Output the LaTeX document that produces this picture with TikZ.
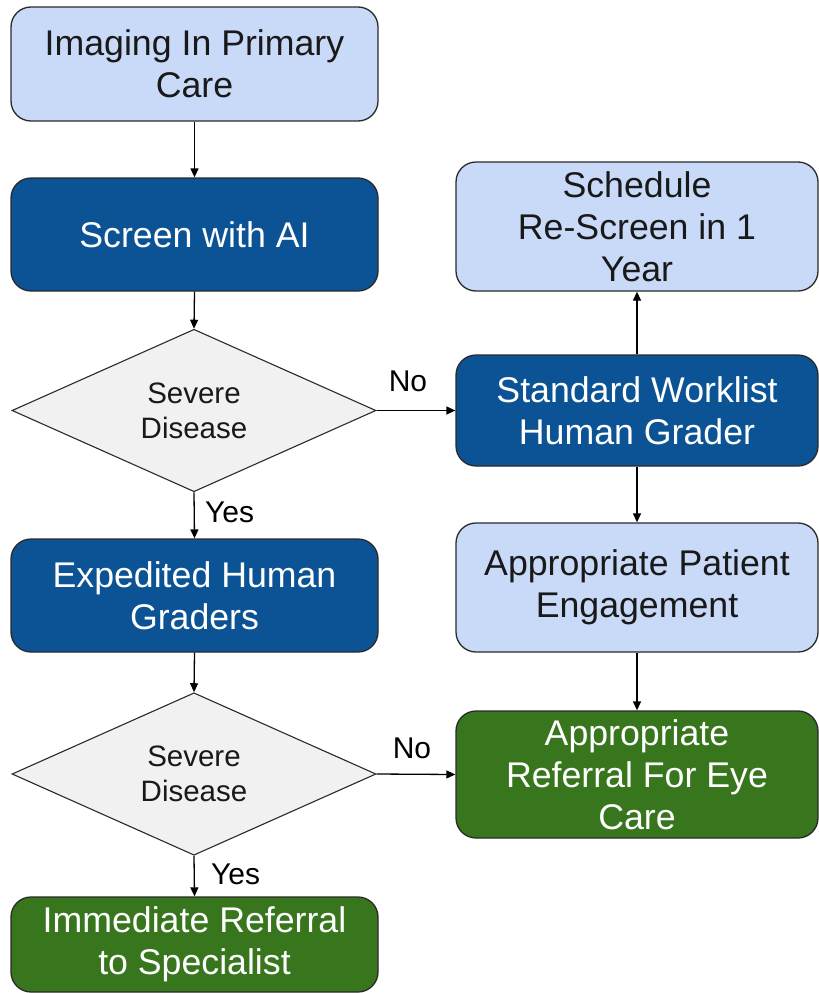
\documentclass[tikz,border=0pt]{standalone}
\usepackage{fontspec}
\setmainfont{Liberation Sans}
\usetikzlibrary{shapes.geometric,arrows.meta}
\definecolor{lightblue}{HTML}{C9DAF8}
\definecolor{darkblue}{HTML}{0B5394}
\definecolor{darkgreen}{HTML}{38761D}
\definecolor{lightgray}{HTML}{F1F1F1}
\definecolor{edgegray}{HTML}{2A2A2A}
\begin{document}
\begin{tikzpicture}[x=1pt,y=-1pt,
  box/.style={draw=edgegray, line width=1.3pt, rounded corners=20pt, align=center,
    inner sep=0pt, font=\fontsize{35.7}{42}\selectfont},
  lbox/.style={box, fill=lightblue, text=black!90},
  dbox/.style={box, fill=darkblue, text=white},
  gbox/.style={box, fill=darkgreen, text=white},
  dec/.style={diamond, draw=edgegray, line width=1.1pt, fill=lightgray, inner sep=0pt,
    align=center, font=\fontsize{29.5}{35}\selectfont, text=black!90},
  lbl/.style={font=\fontsize{30}{34}\selectfont, text=black, inner sep=2pt},
  arr/.style={-{Triangle[width=8pt,length=9pt]}, line width=1.3pt, black}
]
\useasboundingbox (0,0) rectangle (819,993);
% left column
\node[lbox, minimum width=367pt, minimum height=114pt] (img) at (194.5,64) {Imaging In Primary\\Care};
\node[dbox, minimum width=367pt, minimum height=113pt] (ai) at (194.5,234.5) {Screen with AI};
\node[dec, minimum width=364pt, minimum height=157pt] (d1) at (194,410.5) {Severe\\Disease};
\node[dbox, minimum width=367pt, minimum height=113pt] (exp) at (194.5,595.5) {Expedited Human\\Graders};
\node[dec, minimum width=364pt, minimum height=158pt] (d2) at (194,774) {Severe\\Disease};
\node[gbox, minimum width=367pt, minimum height=95pt] (imm) at (194.5,944.5) {Immediate Referral\\to Specialist};
% right column
\node[lbox, minimum width=362pt, minimum height=129pt] (sch) at (637,226.5) {Schedule\\Re-Screen in 1\\Year};
\node[dbox, minimum width=362pt, minimum height=111pt] (std) at (637,410.5) {Standard Worklist\\Human Grader};
\node[lbox, minimum width=362pt, minimum height=129pt] (eng) at (637,587.5) {Appropriate Patient\\Engagement};
\node[gbox, minimum width=362pt, minimum height=127pt] (ref) at (637,774.5) {Appropriate\\Referral For Eye\\Care};
% connectors
\draw[arr] (img.south) -- (ai.north);
\draw[arr] (ai.south) -- (d1.north);
\draw[arr] (d1.south) -- (exp.north);
\draw[arr] (d1.east) -- (std.west);
\draw[arr] (std.north) -- (sch.south);
\draw[arr] (std.south) -- (eng.north);
\draw[arr] (eng.south) -- (ref.north);
\draw[arr] (exp.south) -- (d2.north);
\draw[arr] (d2.south) -- (imm.north);
\draw[arr] (d2.east) -- (ref.west);
% labels
\node[lbl, anchor=west] (yes1) at (203,512) {Yes};
\node[lbl] (no1) at (408,381) {No};
\node[lbl, anchor=west] (yes2) at (209,874) {Yes};
\node[lbl] (no2) at (412,748) {No};
\end{tikzpicture}
\end{document}
